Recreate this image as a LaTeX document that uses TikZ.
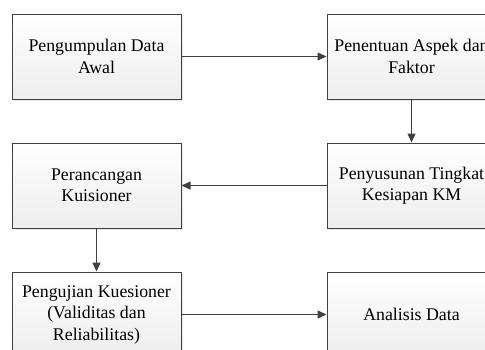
\documentclass[tikz,border=0pt]{standalone}
\usepackage{fontspec}
\setmainfont{Liberation Serif}
\usetikzlibrary{arrows.meta}
\usetikzlibrary{positioning,shadows}

\definecolor{garis}{HTML}{404040}

\tikzset{
  proses/.style={draw=garis, line width=1pt, minimum width=169pt, minimum height=85pt,
    align=center, top color=white, bottom color=black!7,
    drop shadow={shadow xshift=1.5pt, shadow yshift=-1.5pt, opacity=0.2},
    font=\fontsize{17.8}{21.5}\selectfont},
  alur/.style={-{Triangle[length=9pt,width=8pt]}, draw=garis, line width=1.3pt}
}

\begin{document}
\begin{tikzpicture}[>=Stealth, x=1pt, y=-1pt, node distance=43pt and 145pt]

    \useasboundingbox (0,0) rectangle (485,349);
    \clip (0,0) rectangle (485,349);

    \node[proses] (kumpul) at (96.5,56.5) {Pengumpulan Data\\Awal};
    \node[proses, right=of kumpul] (aspek) {Penentuan Aspek dan\\Faktor};
    \node[proses, below=of aspek] (susun) {Penyusunan Tingkat\\Kesiapan KM};
    \node[proses, below=of kumpul] (rancang) {Perancangan\\Kuisioner};
    \node[proses, below=of rancang] (uji) {Pengujian Kuesioner\\(Validitas dan\\Reliabilitas)};
    \node[proses, below=of susun] (analisis) {Analisis Data};

    \draw[alur] (kumpul) -- (aspek);
    \draw[alur] (aspek) -- (susun);
    \draw[alur] (susun) -- (rancang);
    \draw[alur] (rancang) -- (uji);
    \draw[alur] (uji) -- (analisis);

\end{tikzpicture}
\end{document}
